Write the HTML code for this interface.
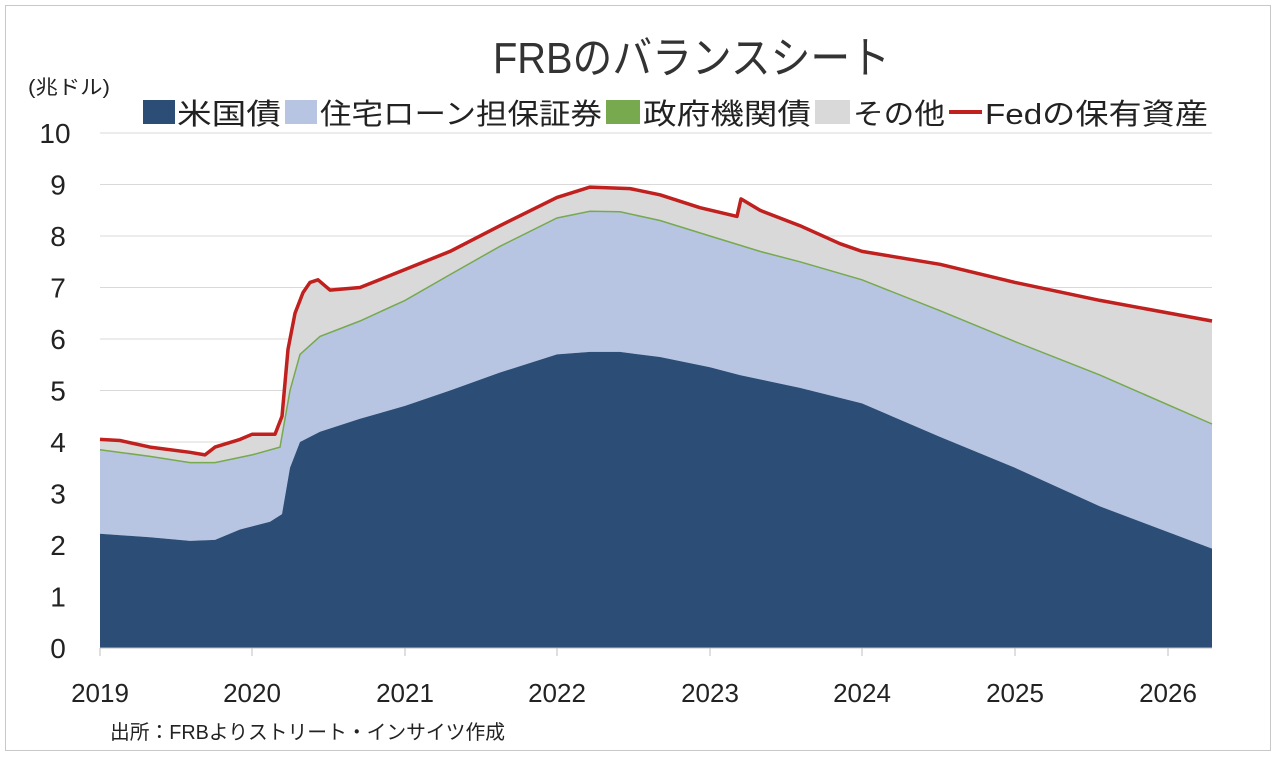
<!DOCTYPE html>
<html><head><meta charset="utf-8"><style>
body{margin:0;background:#fff;}
svg{display:block;font-family:"Liberation Sans","Noto Sans CJK JP",sans-serif;}
</style></head><body>
<svg id="s" width="1278" height="762" xmlns="http://www.w3.org/2000/svg">
<rect x="5.5" y="5.5" width="1265" height="745" fill="#fff" stroke="#c8c8c8"/>
<g id="grid" stroke="#d9d9d9" stroke-width="1"></g>
<g id="areas"></g>
<text x="493" y="73" font-size="44" textLength="397" lengthAdjust="spacingAndGlyphs" fill="#333">FRBのバランスシート</text>
<text x="28" y="94" font-size="20" textLength="82" lengthAdjust="spacingAndGlyphs" fill="#222">(兆ドル)</text>
<g font-size="29" fill="#222">
<rect x="143" y="100" width="32" height="24" fill="#2c4d75"/><text x="177" y="124" textLength="104" lengthAdjust="spacingAndGlyphs">米国債</text>
<rect x="285" y="100" width="32" height="24" fill="#b7c5e2"/><text x="320" y="124" textLength="282" lengthAdjust="spacingAndGlyphs">住宅ローン担保証券</text>
<rect x="606" y="100" width="34" height="24" fill="#77a94f"/><text x="643" y="124" textLength="168" lengthAdjust="spacingAndGlyphs">政府機関債</text>
<rect x="815" y="100" width="35" height="24" fill="#d9d9d9"/><text x="853" y="124" textLength="92" lengthAdjust="spacingAndGlyphs">その他</text>
<rect x="949" y="110" width="33" height="4" fill="#c0201e"/><text x="985" y="124" textLength="223" lengthAdjust="spacingAndGlyphs">Fedの保有資産</text>
</g>
<g id="ylab" font-size="28" fill="#222" text-anchor="middle"></g>
<g id="xlab" font-size="26" fill="#222" text-anchor="middle"></g>
<text x="110" y="739" font-size="20" textLength="395" lengthAdjust="spacingAndGlyphs" fill="#222">出所：FRBよりストリート・インサイツ作成</text>
</svg>
<script>
var y=v=>648-v*51.5;
var g=document.getElementById('grid'),yl=document.getElementById('ylab'),xl=document.getElementById('xlab'),a=document.getElementById('areas');
var h='',yh='';
for(var i=1;i<=10;i++){h+='<line x1="100" x2="1212" y1="'+y(i)+'" y2="'+y(i)+'"/>';}
for(var i=0;i<=10;i++){yh+='<text x="'+(i==10?55:58)+'" y="'+(y(i)+10)+'">'+i+'</text>';}
g.innerHTML=h;yl.innerHTML=yh;
var xs=[100,252,405,557,710,862,1015,1168],xh='';
xs.forEach((x,i)=>{xh+='<text x="'+x+'" y="702">'+(2019+i)+'</text>';});
xl.innerHTML=xh;
var T=[[100,2.22],[150,2.15],[190,2.08],[215,2.1],[240,2.3],[270,2.45],[282,2.6],[290,3.5],[300,4.0],[320,4.2],[360,4.45],[405,4.7],[450,5.0],[500,5.35],[557,5.7],[590,5.75],[620,5.75],[660,5.65],[710,5.45],[740,5.3],[800,5.05],[862,4.75],[940,4.1],[1015,3.5],[1100,2.75],[1212,1.93]];
var M=[[100,3.85],[150,3.72],[190,3.6],[215,3.6],[252,3.75],[280,3.9],[290,5.0],[300,5.7],[320,6.05],[360,6.35],[405,6.75],[450,7.25],[500,7.8],[557,8.35],[590,8.48],[620,8.47],[660,8.3],[710,8.0],[760,7.7],[800,7.5],[862,7.15],[940,6.55],[1015,5.95],[1100,5.3],[1212,4.35]];
var F=[[100,4.05],[120,4.03],[150,3.9],[190,3.8],[205,3.75],[215,3.9],[240,4.05],[252,4.15],[275,4.15],[282,4.5],[288,5.8],[295,6.5],[303,6.9],[310,7.1],[318,7.15],[330,6.95],[360,7.0],[405,7.35],[450,7.7],[500,8.2],[557,8.75],[590,8.95],[630,8.92],[660,8.8],[700,8.55],[737,8.38],[741,8.72],[760,8.5],[800,8.2],[840,7.85],[862,7.7],[940,7.45],[1015,7.1],[1100,6.75],[1212,6.35]];
var pts=A=>A.map(p=>p[0]+','+y(p[1]).toFixed(1)).join(' ');
var rev=A=>A.slice().reverse();
var s='';
s+='<polygon fill="#d9d9d9" points="'+pts(F)+' '+pts(rev(M))+'"/>';
s+='<polygon fill="#b7c5e2" points="'+pts(M)+' '+pts(rev(T))+'"/>';
s+='<polygon fill="#2c4d75" points="100,648 '+pts(T)+' 1212,648"/>';
s+='<polyline fill="none" stroke="#77a94f" stroke-width="1.5" points="'+pts(M)+'"/>';
s+='<polyline fill="none" stroke="#c0201e" stroke-width="3.5" stroke-linejoin="round" points="'+pts(F)+'"/>';
s+='<line x1="100" x2="1212" y1="648" y2="648" stroke="#bfbfbf"/>';
xs.forEach(x=>{s+='<line x1="'+x+'" x2="'+x+'" y1="648" y2="656" stroke="#bfbfbf"/>';});
a.innerHTML=s;
</script>
</body></html>
